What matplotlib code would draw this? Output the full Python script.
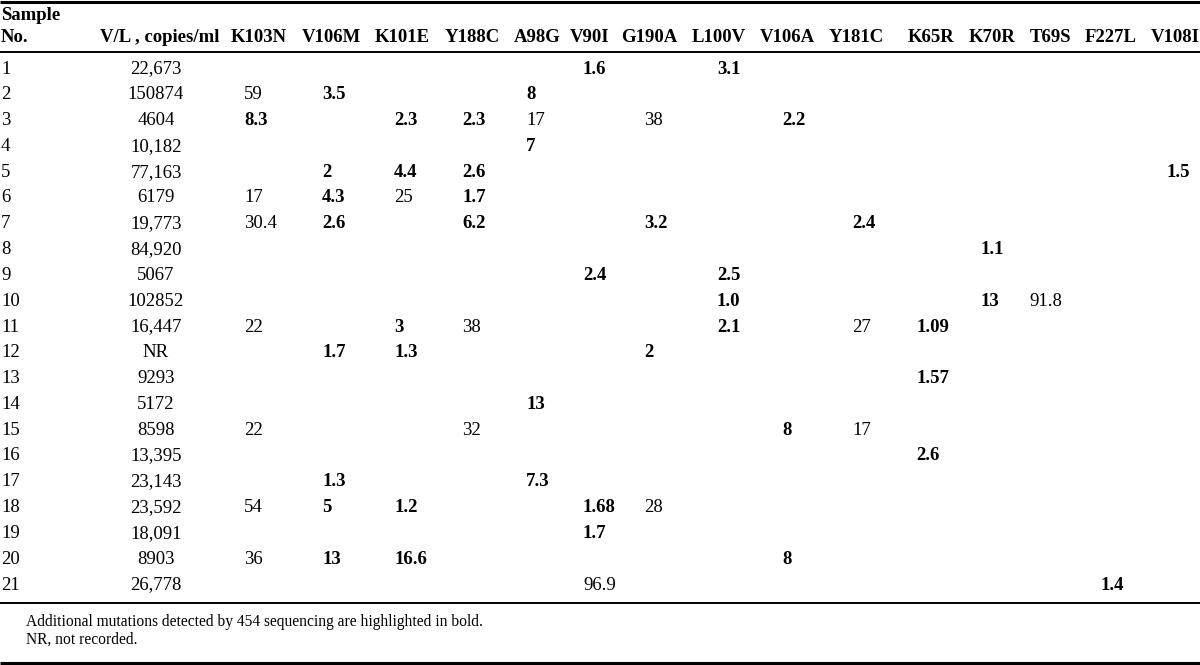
import matplotlib
matplotlib.use("Agg")
import matplotlib.pyplot as plt

# mutation columns of the table
mutations = ["K103N", "V106M", "K101E", "Y188C", "A98G", "V90I", "G190A", "L100V",
             "V106A", "Y181C", "K65R", "K70R", "T69S", "F227L", "V108I"]
samples = [str(i) for i in range(1, 22)]
viral_load = ["22,673", "150874", "4604", "10,182", "77,163", "6179", "19,773", "84,920",
              "5067", "102852", "16,447", "NR", "9293", "5172", "8598", "13,395",
              "23,143", "23,592", "18,091", "8903", "26,778"]

# frequencies (%) per sample, one entry per mutation column; '*' = found only by 454 sequencing
freqs = [
    ["", "", "", "", "", "*1.6", "", "*3.1", "", "", "", "", "", "", ""],
    ["59", "*3.5", "", "", "*8", "", "", "", "", "", "", "", "", "", ""],
    ["*8.3", "", "*2.3", "*2.3", "17", "", "38", "", "*2.2", "", "", "", "", "", ""],
    ["", "", "", "", "*7", "", "", "", "", "", "", "", "", "", ""],
    ["", "*2", "*4.4", "*2.6", "", "", "", "", "", "", "", "", "", "", "*1.5"],
    ["17", "*4.3", "25", "*1.7", "", "", "", "", "", "", "", "", "", "", ""],
    ["30.4", "*2.6", "", "*6.2", "", "", "*3.2", "", "", "*2.4", "", "", "", "", ""],
    ["", "", "", "", "", "", "", "", "", "", "", "*1.1", "", "", ""],
    ["", "", "", "", "", "*2.4", "", "*2.5", "", "", "", "", "", "", ""],
    ["", "", "", "", "", "", "", "*1.0", "", "", "", "*13", "91.8", "", ""],
    ["22", "", "*3", "38", "", "", "", "*2.1", "", "27", "*1.09", "", "", "", ""],
    ["", "*1.7", "*1.3", "", "", "", "*2", "", "", "", "", "", "", "", ""],
    ["", "", "", "", "", "", "", "", "", "", "*1.57", "", "", "", ""],
    ["", "", "", "", "*13", "", "", "", "", "", "", "", "", "", ""],
    ["22", "", "", "32", "", "", "", "", "*8", "17", "", "", "", "", ""],
    ["", "", "", "", "", "", "", "", "", "", "*2.6", "", "", "", ""],
    ["", "*1.3", "", "", "*7.3", "", "", "", "", "", "", "", "", "", ""],
    ["54", "*5", "*1.2", "", "", "*1.68", "28", "", "", "", "", "", "", "", ""],
    ["", "", "", "", "", "*1.7", "", "", "", "", "", "", "", "", ""],
    ["36", "*13", "*16.6", "", "", "", "", "", "*8", "", "", "", "", "", ""],
    ["", "", "", "", "", "96.9", "", "", "", "", "", "", "", "*1.4", ""],
]
notes = ["Additional mutations detected by 454 sequencing are highlighted in bold.",
         "NR, not recorded."]

# layout (pixels)
head_x = [259, 331, 402, 472, 537, 590, 649, 719, 787, 856, 931, 992, 1050, 1111, 1175]
val_x = [244, 322, 394, 462, 526, 583, 644, 717, 782, 852, 916, 980, 1029, 1101, 1166]
row_y0, row_dy = 69, 25.8

plt.rcParams["font.family"] = ["Liberation Serif", "DejaVu Serif"]
fs = 13.5

fig = plt.figure(figsize=(12, 6.65), dpi=100)
ax = fig.add_axes([0, 0, 1, 1])
ax.set_xlim(0, 1200)
ax.set_ylim(665, 0)
ax.axis("off")

# rules
ax.hlines(2, 0, 1200, color="black", lw=2.2)
ax.hlines(52, 0, 1200, color="black", lw=1.4)
ax.hlines(603, 0, 1200, color="black", lw=1.4)
ax.hlines(663, 0, 1200, color="black", lw=2.2)

# header
ax.text(1, 16, "Sample", fontsize=fs, fontweight="bold", va="center", ha="left")
ax.text(1, 38, "No.", fontsize=fs, fontweight="bold", va="center", ha="left")
ax.text(160, 38, "V/L , copies/ml", fontsize=fs, fontweight="bold", va="center", ha="center")
for m, x in zip(mutations, head_x):
    ax.text(x, 38, m, fontsize=fs, fontweight="bold", va="center", ha="center")

# body
for i, (s, vl, row) in enumerate(zip(samples, viral_load, freqs)):
    y = row_y0 + i * row_dy
    ax.text(1, y, s, fontsize=fs, va="center", ha="left")
    ax.text(156, y, vl, fontsize=fs, va="center", ha="center")
    for cell, x in zip(row, val_x):
        if not cell:
            continue
        bold = cell.startswith("*")
        ax.text(x, y, cell.lstrip("*"), fontsize=fs, va="center", ha="left",
                fontweight="bold" if bold else "normal")

# footnotes
for k, note in enumerate(notes):
    ax.text(26, 622 + k * 18, note, fontsize=11.2, va="center", ha="left")

fig.savefig("out.png", dpi=100)
